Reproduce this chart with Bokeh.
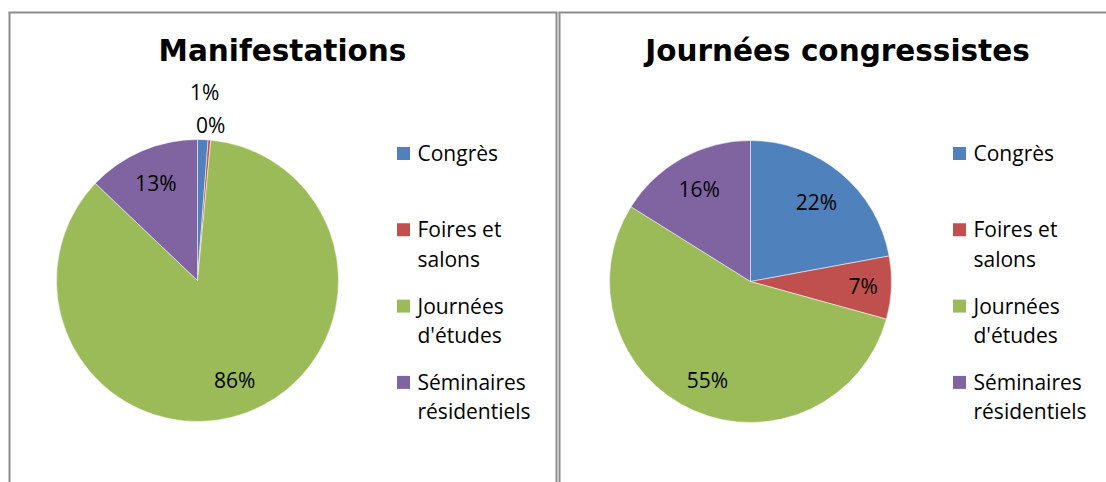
import math
from bokeh.plotting import figure
from bokeh.models import Range1d, ColumnDataSource
from bokeh.core.properties import value
from bokeh.embed import file_html
from bokeh.resources import INLINE

# ---- data ----
categories = ["Congrès", "Foires et\nsalons", "Journées\nd'études", "Séminaires\nrésidentiels"]
colors = ["#4F81BD", "#C0504D", "#9BBB59", "#8064A2"]
titles = ["Manifestations", "Journées congressistes"]
manif_values = [1.2, 0.3, 85.6, 12.9]
journ_values = [22.1, 7.2, 54.6, 16.1]
# label distance from centre (fraction of radius), per slice
manif_label_r = [1.34, 1.11, 0.75, 0.75]
journ_label_r = [0.73, 0.80, 0.76, 0.75]

W, H = 1106, 482
def dx(sx):
    return sx
def dy(sy):
    return H - sy

p = figure(width=W, height=H, output_backend="svg", toolbar_location=None,
           x_range=Range1d(0, W), y_range=Range1d(0, H),
           min_border=0, outline_line_color=None)
p.axis.visible = False
p.grid.visible = False
p.background_fill_color = "white"
p.border_fill_color = "white"

BORDER = "#8C8C8C"
# panel borders
p.segment(x0=[dx(9), dx(8), dx(556)], y0=[dy(12), dy(12), dy(12)],
          x1=[dx(9), dx(557), dx(556)], y1=[0, dy(12), 0],
          line_color=BORDER, line_width=2)
p.segment(x0=[dx(559), dx(558)], y0=[dy(12), dy(12)],
          x1=[dx(559), W], y1=[0, dy(12)],
          line_color=BORDER, line_width=2)

R = 141
panels = [
    dict(title=titles[0], vals=manif_values, lr=manif_label_r,
         cx=dx(197), cy=dy(280), tx=dx(282), lx=dx(403)),
    dict(title=titles[1], vals=journ_values, lr=journ_label_r,
         cx=dx(750), cy=dy(281), tx=dx(837), lx=dx(959)),
]

for pn in panels:
    vals = pn["vals"]
    tot = sum(vals)
    starts, ends, lxs, lys, labs = [], [], [], [], []
    cum = 0.0
    for v, rf in zip(vals, pn["lr"]):
        a0 = math.pi / 2 - 2 * math.pi * cum / tot
        cum += v
        a1 = math.pi / 2 - 2 * math.pi * cum / tot
        starts.append(a0)
        ends.append(a1)
        mid = (a0 + a1) / 2
        lxs.append(pn["cx"] + rf * R * math.cos(mid))
        lys.append(pn["cy"] + rf * R * math.sin(mid))
        labs.append(f"{round(100 * v / tot)}%")
    src = ColumnDataSource(dict(s=starts, e=ends, c=colors))
    p.wedge(x=pn["cx"], y=pn["cy"], radius=R, radius_units="screen",
            start_angle="s", end_angle="e", direction="clock",
            fill_color="c", line_color="white", line_width=0.5, source=src)
    p.text(x=lxs, y=lys, text=labs, text_align="center", text_baseline="middle",
           text_font=value("Open Sans"), text_font_size="21px", text_color="#000000")
    # title
    p.text(x=[pn["tx"]], y=[dy(50)], text=[pn["title"]], text_align="center",
           text_baseline="middle", text_font=value("DejaVu Sans"),
           text_font_style="bold", text_font_size="29.5px", text_color="#000000")
    # legend
    ly = [dy(153 + i * 76.3) for i in range(len(categories))]
    p.rect(x=[pn["lx"]] * len(categories), y=ly, width=13, height=13,
           width_units="screen", height_units="screen",
           fill_color=colors, line_color=None)
    p.text(x=[pn["lx"] + 14] * len(categories), y=[y + 14.5 for y in ly], text=categories,
           text_align="left", text_baseline="top", text_line_height=1.05,
           text_font=value("Open Sans"), text_font_size="21px", text_color="#000000")

open("out.html", "w").write(file_html(p, INLINE))
